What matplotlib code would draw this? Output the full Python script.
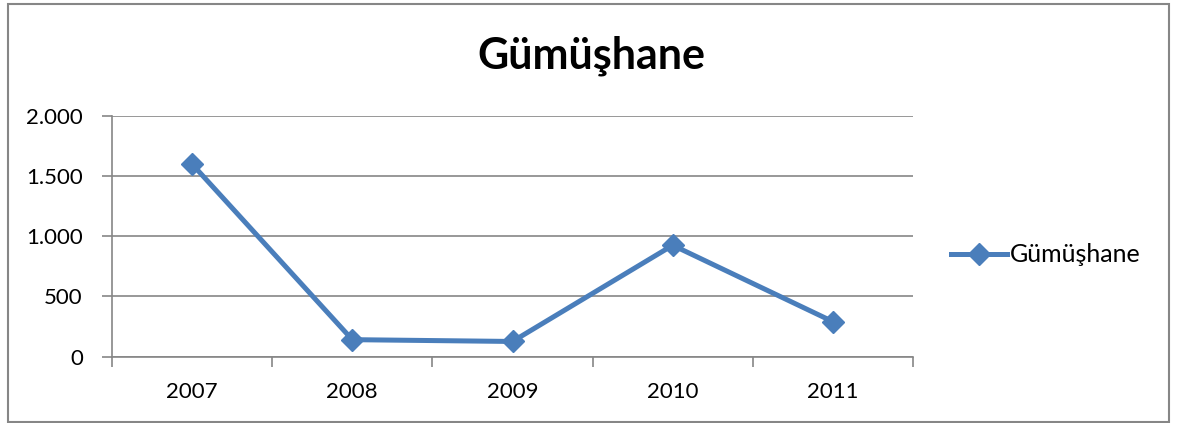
import matplotlib
matplotlib.use("Agg")
import matplotlib.pyplot as plt
from matplotlib.patches import Rectangle
from matplotlib.ticker import FuncFormatter

categories = ["2007", "2008", "2009", "2010", "2011"]
values = [1600, 140, 125, 925, 290]
series_name = "Gümüşhane"
title = "Gümüşhane"
yticks = [0, 500, 1000, 1500, 2000]

plt.rcParams['font.family'] = ['Lato', 'DejaVu Sans']

W, H = 1181, 423
fig = plt.figure(figsize=(W / 100, H / 100), dpi=100)
ax = fig.add_axes([112 / W, 1 - 356.5 / H, (913 - 112) / W, (356.5 - 116) / H])

color = "#4A7EBB"
x = list(range(len(categories)))
ax.plot(x, values, color=color, lw=3.6, marker="D", markersize=11,
        markerfacecolor=color, markeredgecolor=color, label=series_name,
        solid_joinstyle="round", zorder=3, clip_on=False)

ax.set_xlim(-0.5, len(categories) - 0.5)
ax.set_ylim(0, 2000)
ax.set_yticks(yticks)
ax.yaxis.set_major_formatter(FuncFormatter(lambda v, p: f"{int(v):,}".replace(",", ".")))
ax.grid(axis="y", color="#868686", lw=1.2)
ax.set_axisbelow(True)

ax.set_xticks(x)
ax.set_xticklabels(categories)
ax.set_xticks([i - 0.5 for i in range(len(categories) + 1)], minor=True)
ax.tick_params(axis="x", which="major", length=0, pad=18, labelsize=16)
ax.tick_params(axis="x", which="minor", length=7, width=1.2, color="#868686", direction="out")
ax.tick_params(axis="y", which="major", length=7, width=1.2, color="#868686", labelsize=16, pad=14)

for s in ["top", "right"]:
    ax.spines[s].set_visible(False)
for s in ["left", "bottom"]:
    ax.spines[s].set_color("#868686")
    ax.spines[s].set_linewidth(1.2)

fig.text(591 / W, 1 - 68 / H, title, ha="center", va="baseline",
         fontsize=31, fontweight="bold")

leg = fig.legend(loc="center left", bbox_to_anchor=(951 / W, 1 - 255 / H),
                 frameon=False, fontsize=18, handlelength=2.25, handletextpad=0.1,
                 borderpad=0, borderaxespad=0)

fig.patches.append(Rectangle((8 / W, 1 - 421.5 / H), (1169 - 8) / W, (421.5 - 4) / H,
                             transform=fig.transFigure, fill=False,
                             edgecolor="#868686", lw=1.5))

fig.savefig("out.png", dpi=100)
